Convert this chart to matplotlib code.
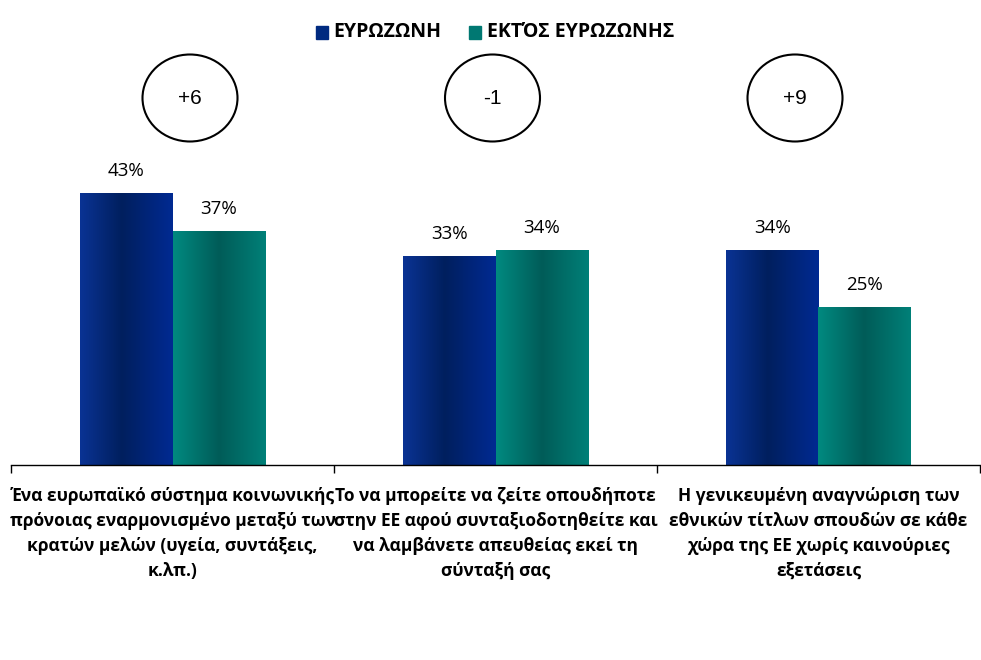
import numpy as np
import matplotlib.pyplot as plt
from matplotlib.patches import Ellipse
from matplotlib.colors import LinearSegmentedColormap

categories = [
    "Ένα ευρωπαϊκό σύστημα κοινωνικής\nπρόνοιας εναρμονισμένο μεταξύ των\nκρατών μελών (υγεία, συντάξεις,\nκ.λπ.)",
    "Το να μπορείτε να ζείτε οπουδήποτε\nστην ΕΕ αφού συνταξιοδοτηθείτε και\nνα λαμβάνετε απευθείας εκεί τη\nσύνταξή σας",
    "Η γενικευμένη αναγνώριση των\nεθνικών τίτλων σπουδών σε κάθε\nχώρα της ΕΕ χωρίς καινούριες\nεξετάσεις",
]
eurozone = [43, 33, 34]
non_eurozone = [37, 34, 25]
differences = ["+6", "-1", "+9"]
series_names = ["ΕΥΡΩΖΩΝΗ", "ΕΚΤΌΣ ΕΥΡΩΖΩΝΗΣ"]

navy_cmap = LinearSegmentedColormap.from_list(
    "navy", [(0, "#0a3394"), (0.45, "#001f5e"), (1, "#002a92")])
teal_cmap = LinearSegmentedColormap.from_list(
    "teal", [(0, "#008a80"), (0.5, "#005c58"), (1, "#008078")])

fig = plt.figure(figsize=(9.81, 6.60), dpi=100)
ax = fig.add_axes([11 / 981, 195 / 660, 969 / 981, 316.5 / 660])

x = np.arange(len(categories))
w = 0.286
grad = np.linspace(0, 1, 256).reshape(1, -1)


def gradient_bars(xs, vals, cmap):
    bars = ax.bar(xs, vals, width=w, color="none", edgecolor="none")
    for b in bars:
        im = ax.imshow(grad, cmap=cmap, aspect="auto",
                       extent=[b.get_x(), b.get_x() + b.get_width(), 0, b.get_height()],
                       zorder=2)
        im.set_clip_path(b)
    return bars


b1 = gradient_bars(x - w / 2, eurozone, navy_cmap)
b2 = gradient_bars(x + w / 2, non_eurozone, teal_cmap)

for bars, vals in ((b1, eurozone), (b2, non_eurozone)):
    for b, v in zip(bars, vals):
        ax.text(b.get_x() + b.get_width() / 2, v + 2.0, f"{v}%",
                ha="center", va="bottom", fontsize=13.5, family="Open Sans")

ax.set_xlim(-0.5, 2.5)
ax.set_ylim(0, 50)
ax.set_yticks([])
ax.set_xticks([-0.5, 0.5, 1.5, 2.5])
ax.set_xticklabels([])
ax.tick_params(axis="x", direction="out", length=6, width=1)
for s in ("top", "left", "right"):
    ax.spines[s].set_visible(False)
ax.spines["bottom"].set_linewidth(1)

for i, lab in enumerate(categories):
    ax.text(i, -3.5, lab, ha="center", va="top", fontsize=12.5,
            fontweight="bold", family="Open Sans", linespacing=1.49)

# circles with differences
for i, d in enumerate(differences):
    cx = (190 + i * 302.5) / 981
    cy = 1 - 98 / 660
    e = Ellipse((cx, cy), 95 / 981, 87 / 660, transform=fig.transFigure,
                facecolor="white", edgecolor="black", linewidth=1.5)
    fig.patches.append(e)
    fig.text(cx, cy, d, ha="center", va="center", fontsize=15, family="Liberation Sans")

# legend
fig.patches.append(plt.Rectangle((316 / 981, 1 - 38.5 / 660), 12 / 981, 12 / 660,
                                 transform=fig.transFigure, color="#002a80"))
fig.text(333 / 981, 1 - 32 / 660, series_names[0], ha="left", va="center",
         fontsize=14, fontweight="bold", family="Open Sans")
fig.patches.append(plt.Rectangle((469 / 981, 1 - 38.5 / 660), 12 / 981, 12 / 660,
                                 transform=fig.transFigure, color="#007872"))
fig.text(487 / 981, 1 - 32 / 660, series_names[1], ha="left", va="center",
         fontsize=14, fontweight="bold", family="Open Sans")

fig.savefig("out.png", dpi=100)
